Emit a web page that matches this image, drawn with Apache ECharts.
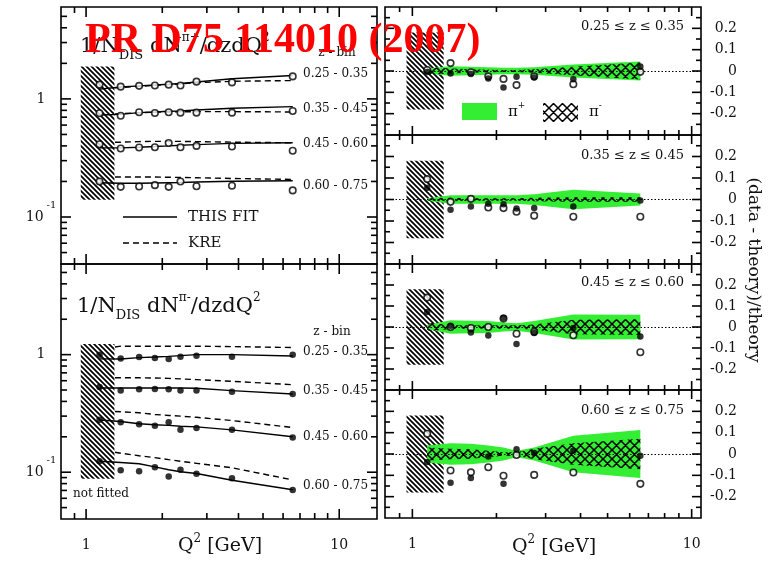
<!DOCTYPE html>
<html><head><meta charset="utf-8">
<script src="https://cdn.jsdelivr.net/npm/echarts@6/dist/echarts.min.js"></script>
<style>html,body{margin:0;padding:0;background:#fff}#c{width:782px;height:562px}</style>
</head><body><div id="c"></div>
<script>
// ---------------- data ----------------
const Q2 = [1.13, 1.37, 1.62, 1.87, 2.12, 2.36, 2.73, 3.77, 6.55];
const Q2_KRE = [1.30, 1.37, 1.62, 1.87, 2.12, 2.36, 2.73, 3.77, 6.55];
const Z_BINS = ['0.25 - 0.35', '0.35 - 0.45', '0.45 - 0.60', '0.60 - 0.75'];
const Z_TITLES = ['0.25 ≤ z ≤ 0.35', '0.35 ≤ z ≤ 0.45', '0.45 ≤ z ≤ 0.60', '0.60 ≤ z ≤ 0.75'];

// pi+ multiplicities (open circles), fit (solid) and KRE (dashed)
const PIP_DATA_B1 = [1.32, 1.27, 1.29, 1.30, 1.32, 1.30, 1.40, 1.38, 1.55];
const PIP_DATA_B2 = [0.756, 0.72, 0.77, 0.76, 0.77, 0.765, 0.765, 0.765, 0.79];
const PIP_DATA_B3 = [0.413, 0.38, 0.388, 0.39, 0.423, 0.39, 0.40, 0.395, 0.364];
const PIP_DATA_B4 = [0.20, 0.18, 0.181, 0.186, 0.18, 0.20, 0.182, 0.184, 0.168];
const PIP_FIT_B1 = [1.21, 1.26, 1.29, 1.31, 1.33, 1.35, 1.39, 1.48, 1.58];
const PIP_FIT_B2 = [0.73, 0.74, 0.765, 0.775, 0.785, 0.79, 0.806, 0.833, 0.86];
const PIP_FIT_B3 = [0.385, 0.385, 0.39, 0.395, 0.40, 0.405, 0.41, 0.42, 0.425];
const PIP_FIT_B4 = [0.195, 0.193, 0.193, 0.194, 0.195, 0.196, 0.198, 0.201, 0.203];
const PIP_KRE_B1 = [1.24, 1.25, 1.28, 1.30, 1.32, 1.34, 1.37, 1.41, 1.43];
const PIP_KRE_B2 = [0.745, 0.75, 0.765, 0.77, 0.775, 0.777, 0.78, 0.78, 0.775];
const PIP_KRE_B3 = [0.43, 0.43, 0.435, 0.437, 0.437, 0.437, 0.435, 0.43, 0.425];
const PIP_KRE_B4 = [0.218, 0.218, 0.218, 0.218, 0.217, 0.216, 0.215, 0.212, 0.208];

// pi- multiplicities (filled circles)
const PIM_DATA_B1 = [1.0, 0.925, 0.955, 0.937, 0.918, 0.96, 0.98, 0.96, 0.997];
const PIM_DATA_B2 = [0.53, 0.495, 0.507, 0.51, 0.507, 0.495, 0.495, 0.484, 0.462];
const PIM_DATA_B3 = [0.279, 0.266, 0.256, 0.248, 0.266, 0.23, 0.238, 0.23, 0.197];
const PIM_DATA_B4 = [0.124, 0.104, 0.102, 0.11, 0.092, 0.105, 0.097, 0.089, 0.0705];
const PIM_FIT_B1 = [0.92, 0.918, 0.943, 0.955, 0.967, 0.98, 1.0, 1.0, 0.975];
const PIM_FIT_B2 = [0.52, 0.52, 0.52, 0.52, 0.52, 0.52, 0.517, 0.494, 0.463];
const PIM_FIT_B3 = [0.278, 0.27, 0.258, 0.253, 0.25, 0.246, 0.243, 0.229, 0.2];
const PIM_FIT_B4 = [0.124, 0.121, 0.118, 0.111, 0.105, 0.101, 0.0975, 0.0855, 0.071];
const PIM_KRE_B1 = [1.16, 1.18, 1.18, 1.18, 1.18, 1.18, 1.18, 1.17, 1.15];
const PIM_KRE_B2 = [0.635, 0.635, 0.635, 0.633, 0.628, 0.622, 0.613, 0.593, 0.555];
const PIM_KRE_B3 = [0.328, 0.327, 0.32, 0.31, 0.304, 0.30, 0.293, 0.275, 0.24];
const PIM_KRE_B4 = [0.148, 0.145, 0.138, 0.133, 0.128, 0.124, 0.119, 0.109, 0.086];

// (data - theory)/theory, per z bin
const RES_PIP_Z1 = [0.005, 0.037, -0.006, -0.025, -0.037, -0.066, -0.025, -0.062, -0.004];
const RES_PIM_Z1 = [-0.005, -0.012, -0.014, -0.035, -0.077, -0.027, -0.03, -0.039, 0.021];
const RES_PIP_Z2 = [0.095, -0.011, 0.003, -0.037, -0.04, -0.057, -0.075, -0.08, -0.08];
const RES_PIM_Z2 = [0.055, -0.048, -0.032, -0.02, -0.022, -0.042, -0.04, -0.032, -0.005];
const RES_PIP_Z3 = [0.14, 0.0, -0.005, 0.0, 0.04, -0.032, -0.023, -0.039, -0.12];
const RES_PIM_Z3 = [0.072, 0.006, -0.026, -0.04, 0.044, -0.081, -0.028, -0.005, -0.045];
const RES_PIP_Z4 = [0.095, -0.077, -0.086, -0.062, -0.102, -0.005, -0.098, -0.087, -0.14];
const RES_PIM_Z4 = [-0.037, -0.135, -0.112, -0.012, -0.14, 0.022, 0.005, 0.015, -0.008];

// uncertainty band half-widths (pi+ green, pi- cross-hatched)
const BAND_PIP_Z1 = [0.012, 0.022, 0.02, 0.018, 0.015, 0.015, 0.018, 0.03, 0.045];
const BAND_PIM_Z1 = [0.018, 0.012, 0.008, 0.006, 0.005, 0.005, 0.008, 0.02, 0.04];
const BAND_PIP_Z2 = [0.006, 0.02, 0.02, 0.02, 0.02, 0.02, 0.025, 0.045, 0.028];
const BAND_PIM_Z2 = [0.006, 0.008, 0.006, 0.006, 0.006, 0.006, 0.008, 0.01, 0.01];
const BAND_PIP_Z3 = [0.01, 0.032, 0.03, 0.028, 0.022, 0.018, 0.028, 0.06, 0.058];
const BAND_PIM_Z3 = [0.02, 0.01, 0.008, 0.008, 0.008, 0.008, 0.012, 0.035, 0.038];
const BAND_PIP_Z4 = [0.04, 0.05, 0.048, 0.04, 0.03, 0.015, 0.03, 0.085, 0.112];
const BAND_PIM_Z4 = [0.03, 0.025, 0.022, 0.015, 0.008, 0.008, 0.025, 0.05, 0.072];

// not-fitted region
const NOTFIT_Q2 = [0.953, 1.294];
const NOTFIT_Y_PIP = [0.14, 1.88];
const NOTFIT_Y_PIM = [0.088, 1.23];
const NOTFIT_RES = [-0.18, 0.18];

// axis ranges and tick values
const X_RANGE_LEFT = [0.796, 14.1];
const X_RANGE_RIGHT = [0.798, 10.8];
const Y_RANGE_PIP = [0.04, 6];
const Y_RANGE_PIM = [0.04, 5.9];
const Y_RANGE_RES = [-0.3, 0.3];
const X_MAJOR = [1, 10];
const X_MINOR = [0.9, 2, 3, 4, 5, 6, 7, 8, 9];
const LOGY_MAJOR = [0.1, 1];
const LOGY_MINOR = [0.05, 0.06, 0.07, 0.08, 0.09, 0.2, 0.3, 0.4, 0.5, 0.6, 0.7, 0.8, 0.9, 2, 3, 4, 5];
const RY_MAJOR = [-0.2, -0.1, 0, 0.1, 0.2];
const RY_MINOR = [-0.25, -0.15, -0.05, 0.05, 0.15, 0.25];

// ---------------- styling helpers ----------------
const FONT = '"DejaVu Serif", serif';
const INK = '#111';
const GREEN = '#33ee33';

function hatchPattern() {
  const s = 5, c = document.createElement('canvas');
  c.width = s; c.height = s;
  const g = c.getContext('2d');
  g.strokeStyle = '#000'; g.lineWidth = 1.7; g.beginPath();
  for (const k of [-s, 0, s]) { g.moveTo(k - 1, -1); g.lineTo(k + s + 1, s + 1); }
  g.stroke();
  return { image: c, repeat: 'repeat' };
}
function crossPattern() {
  const s = 9, c = document.createElement('canvas');
  c.width = s; c.height = s;
  const g = c.getContext('2d');
  g.strokeStyle = '#000'; g.lineWidth = 1.5; g.beginPath();
  for (const k of [-s, 0, s]) {
    g.moveTo(k - 1, -1); g.lineTo(k + s + 1, s + 1);
    g.moveTo(k + s + 1, -1); g.lineTo(k - 1, s + 1);
  }
  g.stroke();
  return { image: c, repeat: 'repeat' };
}
const HATCH = hatchPattern();
const CROSS = crossPattern();

const grids = [
  { left: 61, top: 7, width: 316, height: 257 },
  { left: 61, top: 264, width: 316, height: 255 },
  { left: 385, top: 7, width: 316, height: 128 },
  { left: 385, top: 135, width: 316, height: 129 },
  { left: 385, top: 264, width: 316, height: 126 },
  { left: 385, top: 390, width: 316, height: 128 }
].map(g => Object.assign(g, { show: true, borderColor: '#000', borderWidth: 1.6, containLabel: false }));
const X_RANGES = [X_RANGE_LEFT, X_RANGE_LEFT, X_RANGE_RIGHT, X_RANGE_RIGHT, X_RANGE_RIGHT, X_RANGE_RIGHT];
const Y_RANGES = [Y_RANGE_PIP, Y_RANGE_PIM, Y_RANGE_RES, Y_RANGE_RES, Y_RANGE_RES, Y_RANGE_RES];

const xAxes = grids.map((g, i) => ({
  type: 'log', logBase: 10, gridIndex: i,
  min: X_RANGES[i][0], max: X_RANGES[i][1],
  axisLine: { show: false }, axisTick: { show: false }, splitLine: { show: false },
  axisLabel: {
    show: i === 1 || i === 5, margin: 19, fontFamily: FONT, fontSize: 14, color: INK,
    formatter: v => Math.abs(v - 1) < 1e-6 ? '1' : (Math.abs(v - 10) < 1e-6 ? '10' : '')
  }
}));

const yAxes = grids.map((g, i) => i < 2 ? ({
  type: 'log', logBase: 10, gridIndex: i, min: Y_RANGES[i][0], max: Y_RANGES[i][1],
  axisLine: { show: false }, axisTick: { show: false }, splitLine: { show: false },
  axisLabel: {
    align: 'center', margin: 20,
    formatter: v => Math.abs(v - 1) < 1e-6 ? '{a|1}' : (Math.abs(v - 0.1) < 1e-7 ? '{a|10}{b|-1}' : ''),
    rich: {
      a: { fontFamily: FONT, fontSize: 14, color: INK, lineHeight: 34 },
      b: { fontFamily: FONT, fontSize: 10, color: INK, lineHeight: 10, verticalAlign: 'top', padding: [0, 0, 0, 3] }
    }
  }
}) : ({
  type: 'value', gridIndex: i, position: 'right', min: Y_RANGES[i][0], max: Y_RANGES[i][1], interval: 0.1,
  axisLine: { show: false }, axisTick: { show: false }, splitLine: { show: false },
  axisLabel: {
    align: 'right', margin: 36, fontFamily: FONT, fontSize: 14, color: INK,
    formatter: v => Math.abs(v) < 1e-9 ? '0' : (Math.abs(Math.abs(v) - 0.3) < 1e-9 ? '' : v.toFixed(1))
  }
}));

function hatchSeries(gi, yr) {
  return {
    type: 'custom', xAxisIndex: gi, yAxisIndex: gi, silent: true, z: 1,
    data: [[NOTFIT_Q2[0], yr[0]]],
    renderItem(params, api) {
      const a = api.coord([NOTFIT_Q2[0], yr[1]]);
      const b = api.coord([NOTFIT_Q2[1], yr[0]]);
      return { type: 'rect', shape: { x: a[0], y: a[1], width: b[0] - a[0], height: b[1] - a[1] }, style: { fill: HATCH } };
    }
  };
}

function bandSeries(gi, half, fill, z) {
  return {
    type: 'custom', xAxisIndex: gi, yAxisIndex: gi, silent: true, z,
    data: [[Q2[0], 0]],
    renderItem(params, api) {
      const up = Q2.map((q, i) => api.coord([q, half[i]]));
      const lo = Q2.map((q, i) => api.coord([q, -half[i]])).reverse();
      return { type: 'polygon', shape: { points: up.concat(lo) }, style: { fill } };
    }
  };
}

function lineSeries(gi, name, xs, ys, dashed) {
  return {
    type: 'line', name, xAxisIndex: gi, yAxisIndex: gi, silent: true, z: 4,
    data: xs.map((x, i) => [x, ys[i]]), symbol: 'none', showSymbol: false,
    lineStyle: { color: '#000', width: 1.4, type: dashed ? [6, 4] : 'solid' },
    itemStyle: { color: '#000' }
  };
}

function scatterSeries(gi, name, ys, open, extra) {
  return Object.assign({
    type: 'scatter', name, xAxisIndex: gi, yAxisIndex: gi, silent: true, z: open ? 5 : 6,
    data: Q2.map((x, i) => [x, ys[i]]), symbol: 'circle', symbolSize: 6.5,
    itemStyle: open ? { color: '#fff', borderColor: '#000', borderWidth: 1.6 } : { color: '#000' }
  }, extra || {});
}

const series = [];
const gridSeriesIndex = [];
const PIP_DATA = [PIP_DATA_B1, PIP_DATA_B2, PIP_DATA_B3, PIP_DATA_B4];
const PIP_FIT = [PIP_FIT_B1, PIP_FIT_B2, PIP_FIT_B3, PIP_FIT_B4];
const PIP_KRE = [PIP_KRE_B1, PIP_KRE_B2, PIP_KRE_B3, PIP_KRE_B4];
const PIM_DATA = [PIM_DATA_B1, PIM_DATA_B2, PIM_DATA_B3, PIM_DATA_B4];
const PIM_FIT = [PIM_FIT_B1, PIM_FIT_B2, PIM_FIT_B3, PIM_FIT_B4];
const PIM_KRE = [PIM_KRE_B1, PIM_KRE_B2, PIM_KRE_B3, PIM_KRE_B4];

gridSeriesIndex[0] = series.length; series.push(hatchSeries(0, NOTFIT_Y_PIP));
gridSeriesIndex[1] = series.length; series.push(hatchSeries(1, NOTFIT_Y_PIM));
for (let b = 0; b < 4; b++) {
  series.push(lineSeries(0, 'THIS FIT', Q2, PIP_FIT[b], false));
  series.push(lineSeries(0, 'KRE', Q2_KRE, PIP_KRE[b], true));
  series.push(scatterSeries(0, 'π+ ' + Z_BINS[b], PIP_DATA[b], true));
  series.push(lineSeries(1, 'THIS FIT', Q2, PIM_FIT[b], false));
  series.push(lineSeries(1, 'KRE', Q2_KRE, PIM_KRE[b], true));
  series.push(scatterSeries(1, 'π- ' + Z_BINS[b], PIM_DATA[b], false));
}

const RES_PIP = [RES_PIP_Z1, RES_PIP_Z2, RES_PIP_Z3, RES_PIP_Z4];
const RES_PIM = [RES_PIM_Z1, RES_PIM_Z2, RES_PIM_Z3, RES_PIM_Z4];
const BAND_PIP = [BAND_PIP_Z1, BAND_PIP_Z2, BAND_PIP_Z3, BAND_PIP_Z4];
const BAND_PIM = [BAND_PIM_Z1, BAND_PIM_Z2, BAND_PIM_Z3, BAND_PIM_Z4];
for (let k = 0; k < 4; k++) {
  const gi = k + 2;
  gridSeriesIndex[gi] = series.length;
  series.push(hatchSeries(gi, NOTFIT_RES));
  series.push(bandSeries(gi, BAND_PIP[k], GREEN, 2));
  series.push(bandSeries(gi, BAND_PIM[k], CROSS, 3));
  series.push(scatterSeries(gi, 'res π+ ' + Z_TITLES[k], RES_PIP[k], true, {
    markLine: {
      silent: true, symbol: ['none', 'none'], data: [{ yAxis: 0 }], animation: false,
      lineStyle: { type: [1.5, 2], color: '#000', width: 1 }, label: { show: false }
    }
  }));
  series.push(scatterSeries(gi, 'res π- ' + Z_TITLES[k], RES_PIM[k], false));
}

// ---------------- text / decorations ----------------
const T = (x, y, text, size, align, extra) => Object.assign({
  type: 'text', x, y, z: 50, silent: true,
  style: { text, fill: INK, font: size + 'px ' + FONT, align: align || 'left', verticalAlign: 'middle' }
}, extra || {});

const titleRich = {
  m: { fontFamily: FONT, fontSize: 21, color: INK, lineHeight: 30 },
  sub: { fontFamily: FONT, fontSize: 13, color: INK, lineHeight: 14, verticalAlign: 'bottom' },
  sup: { fontFamily: FONT, fontSize: 12, color: INK, lineHeight: 10, verticalAlign: 'top' }
};
const richText = (x, y, text, rich, align) => ({
  type: 'text', x, y, z: 50, silent: true,
  style: { text, rich, align: align || 'left', verticalAlign: 'middle', fill: INK }
});
const qRich = {
  m: { fontFamily: FONT, fontSize: 19, color: INK, lineHeight: 26 },
  s: { fontFamily: FONT, fontSize: 12, color: INK, lineHeight: 12, verticalAlign: 'top' }
};
const piRich = {
  m: { fontFamily: FONT, fontSize: 15, color: INK, lineHeight: 22 },
  s: { fontFamily: FONT, fontSize: 9, color: INK, lineHeight: 9, verticalAlign: 'top' }
};
const gLine = (x1, y1, x2, y2, dash, w) => {
  const el = { type: 'line', shape: { x1, y1, x2, y2 }, style: { stroke: '#000', lineWidth: w || 1.4 } };
  if (dash) el.style.lineDash = dash;
  return el;
};

const graphics = [
  richText(80, 47, '{m|1/N}{sub|DIS}{m| dN}{sup|π+}{m|/dzdQ}{sup|2}', titleRich),
  richText(77, 307, '{m|1/N}{sub|DIS}{m| dN}{sup|π-}{m|/dzdQ}{sup|2}', titleRich),
  T(337, 53, 'z - bin', 12, 'center'),
  T(332, 332, 'z - bin', 12, 'center'),
  T(73, 494, 'not fitted', 12, 'left'),
  gLine(123, 217, 177, 217), T(188, 217, 'THIS FIT', 15, 'left'),
  gLine(123, 243, 177, 243, [6, 4]), T(188, 243, 'KRE', 15, 'left'),
  richText(220, 546, '{m|Q}{s|2}{m| [GeV]}', qRich, 'center'),
  richText(554, 547, '{m|Q}{s|2}{m| [GeV]}', qRich, 'center'),
  T(753, 270, '(data - theory)/theory', 17, 'center', { rotation: -Math.PI / 2 }),
  { type: 'rect', z: 50, silent: true, shape: { x: 462, y: 103, width: 35, height: 17 }, style: { fill: GREEN } },
  { type: 'rect', z: 50, silent: true, shape: { x: 543, y: 103, width: 35, height: 19 }, style: { fill: CROSS } },
  richText(508, 112, '{m|π}{s|+}', piRich),
  richText(589, 112, '{m|π}{s|-}', piRich)
];
const leftBinY = [[74, 109, 144, 186], [352, 391, 437, 486]];
leftBinY.forEach(ys => ys.forEach((y, b) => graphics.push(T(303, y, Z_BINS[b], 12, 'left'))));
const rightTitleY = [27, 156, 283, 411];
rightTitleY.forEach((y, k) => graphics.push(T(684, y, Z_TITLES[k], 13, 'right')));

const chart = echarts.init(document.getElementById('c'));
chart.setOption({
  animation: false,
  backgroundColor: '#fff',
  textStyle: { fontFamily: FONT },
  grid: grids, xAxis: xAxes, yAxis: yAxes,
  series
});

// frame ticks: positions come from the chart's own axis scales
const ticks = [];
grids.forEach((g, gi) => {
  const xr = X_RANGES[gi], yr = Y_RANGES[gi];
  const isLog = gi < 2;
  const yMaj = isLog ? LOGY_MAJOR : RY_MAJOR, yMin = isLog ? LOGY_MINOR : RY_MINOR;
  const majLen = isLog ? 10 : 9, minLen = isLog ? 6 : 5;
  const P = (x, y) => chart.convertToPixel({ seriesIndex: gridSeriesIndex[gi] }, [x, y]);
  const tl = P(xr[0], yr[1]), br = P(xr[1], yr[0]);
  const left = tl[0], top = tl[1], right = br[0], bottom = br[1];
  const yRef = yMaj[1];
  const xt = (arr, len) => arr.forEach(v => {
    const p = P(v, yRef)[0];
    ticks.push(gLine(p, top, p, top + len, null, 1.6), gLine(p, bottom, p, bottom - len, null, 1.6));
  });
  const yt = (arr, len) => arr.forEach(v => {
    const p = P(1, v)[1];
    ticks.push(gLine(left, p, left + len, p, null, 1.6), gLine(right, p, right - len, p, null, 1.6));
  });
  xt(X_MAJOR, majLen); xt(X_MINOR, minLen); yt(yMaj, majLen); yt(yMin, minLen);
});
const redTitle = { type: 'text', x: 85, y: 41, z: 100, silent: true,
  style: { text: 'PR D75 114010 (2007)', fill: '#ff0000', font: 'bold 42px "Liberation Serif", serif', align: 'left', verticalAlign: 'middle' } };
chart.setOption({ graphic: ticks.concat(graphics, [redTitle]) });
</script></body></html>
